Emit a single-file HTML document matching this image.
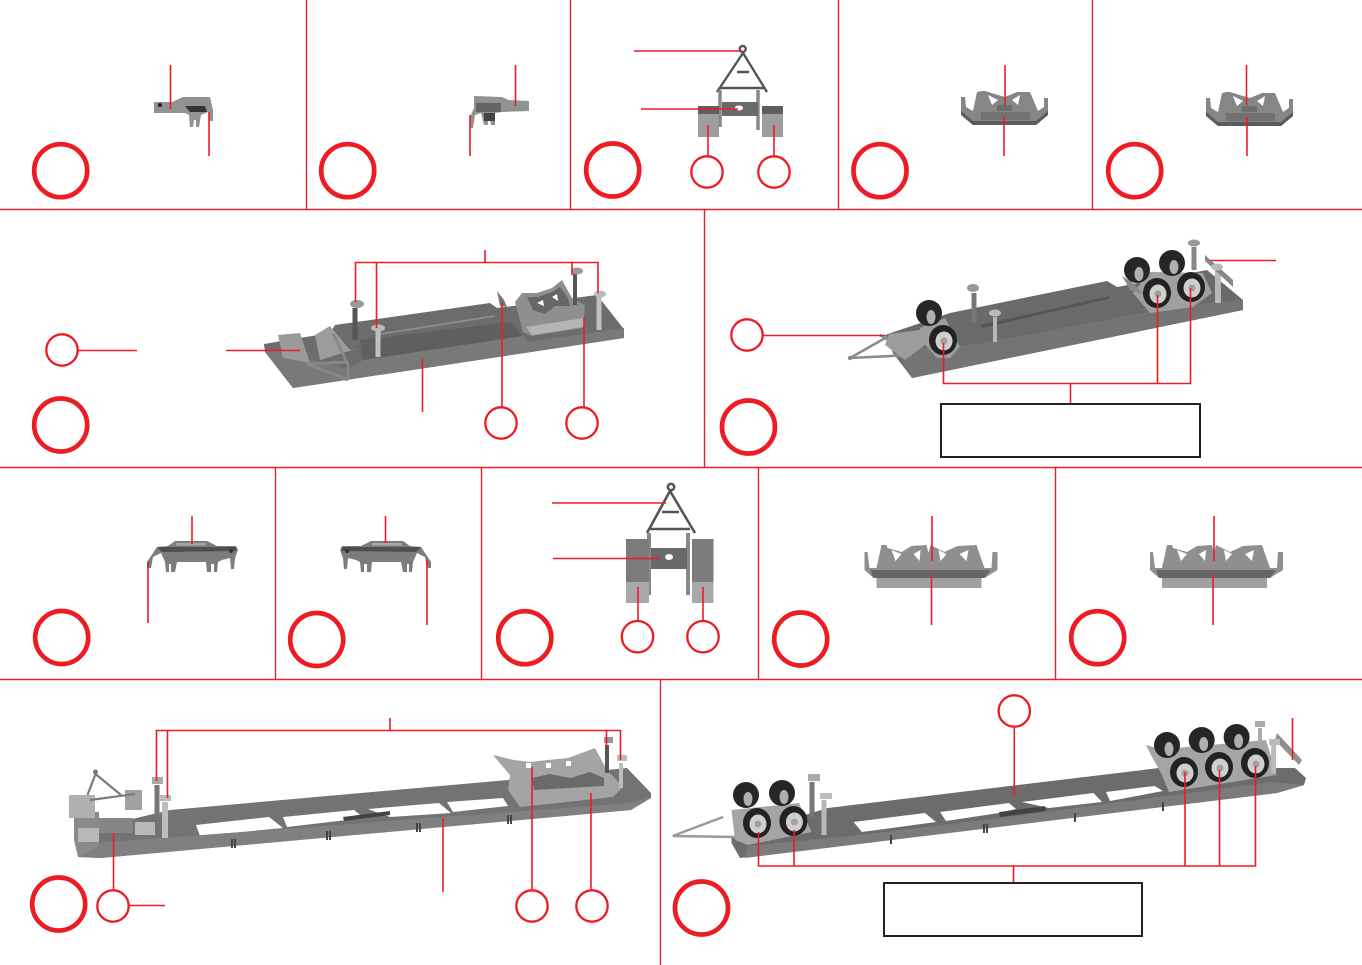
<!DOCTYPE html>
<html>
<head>
<meta charset="utf-8">
<title>Assembly diagram</title>
<style>
html,body{margin:0;padding:0;background:#fff;width:1362px;height:965px;overflow:hidden}
svg{display:block}
.r{stroke:#ed1c24;stroke-width:1.6;fill:none}
.d{stroke:#e0222b;stroke-width:1.4;fill:none}
.big{stroke:#ed1c24;stroke-width:4.700;fill:none}
.sm{stroke:#ed1c24;stroke-width:2.300;fill:none}
.box{stroke:#222;stroke-width:2;fill:#fff}
</style>
</head>
<body>
<svg width="1362" height="965" viewBox="0 0 1362 965" xmlns="http://www.w3.org/2000/svg">
<defs>
  <g id="tray">
    <polygon points="961,97 965,97 966,107 973,111 977,92 982,91 985,91 998,95 1005,97 1017,92 1023,92 1030,92 1038,111 1044,107 1044,98 1048,98 1048,115 1036,125 973,125 961,115" fill="#868686"/>
    <polygon points="988,95 998,100 992,105" fill="#fff"/>
    <polygon points="1020,95 1012,100 1018,105" fill="#fff"/>
    <rect x="997" y="105" width="15" height="6" fill="#6e6e6e"/>
    <polygon points="981,112 1030,112 1030,120 981,120" fill="#727272"/>
    <polygon points="961,111 973,121 1036,121 1048,111 1048,115 1036,125 973,125 961,115" fill="#5c5c5c"/>
  </g>
  <g id="brL">
    <polygon points="147,562 157,547 168,546 175,541 207,541 217,546 236,546 238,550 235,558 234,569 231,569 230,558 222,560 218,562 217,572 214,572 214,564 211,564 211,572 207,572 206,562 177,562 175,572 171,572 171,564 169,564 169,572 166,572 165,562 161,553 153,557 151,568 147,568" fill="#7c7c7c"/>
    <polygon points="157,547 236,547 236,551 162,552" fill="#4f4f4f"/>
    <rect x="176" y="543" width="30" height="2.500" fill="#a8a8a8"/>
    <circle cx="231" cy="551" r="2" fill="#333"/>
  </g>
  <g id="tray2">
    <polygon points="1150,552 1153,552 1155,568 1162,568 1167,545 1172,545 1173,548 1187,552 1197,546 1212,545 1214,553 1216,545 1230,552 1243,546 1262,545 1270,568 1277,568 1278,552 1283,552 1283,570 1270,578 1267,578 1267,588 1162,588 1162,578 1159,578 1150,570" fill="#8f8f8f"/>
    <polygon points="1177,550 1187,554 1181,561" fill="#fff"/>
    <polygon points="1206,550 1199,554 1205,561" fill="#fff"/>
    <polygon points="1224,550 1232,554 1226,561" fill="#fff"/>
    <polygon points="1254,550 1245,554 1252,561" fill="#fff"/>
    <polygon points="1156,570 1276,570 1270,578 1159,578" fill="#666"/>
    <rect x="1162" y="578" width="105" height="10" fill="#a0a0a0"/>
  </g>
  <g id="wheel">
    <ellipse cx="0" cy="0" rx="14" ry="15" fill="#222"/>
    <ellipse cx="1" cy="1" rx="8.500" ry="9.500" fill="#cfcfcf"/>
    <circle cx="1" cy="1" r="3.500" fill="#a0a0a0"/>
  </g>
  <g id="wheelB">
    <ellipse cx="0" cy="0" rx="13" ry="13" fill="#262626"/>
    <ellipse cx="2" cy="4" rx="4.500" ry="7" fill="#b0b0b0"/>
  </g>
</defs>

<!-- Row 1 parts -->
<polygon points="154,102 154,113 185,113 189,115 190,127 193,127 194,120 196,120 196,127 199,127 201,115 208,112 210,121 213,121 213,110 210,97 183,97 172,102" fill="#929292"/>
<polygon points="185,106 205,106 207,112 190,112" fill="#333"/>
<circle cx="160" cy="105" r="2" fill="#222"/>

<polygon points="474,96 502,97 509,100 529,101 529,111 502,112 495,113 495,125 491,125 490,120 488,120 488,125 484,125 481,113 475,115 473,128 470,128 470,117 474,108" fill="#929292"/>
<rect x="476" y="103" width="25" height="9" fill="#646464"/>
<rect x="484" y="113" width="11" height="8" fill="#444"/>

<g stroke="#555" stroke-width="2.400" fill="none">
  <circle cx="742.700" cy="49" r="3"/>
  <path d="M743 53 L717 92 M743 53 L767 92 M737 72 H749 M720 88 H764"/>
  <path d="M720 90 V127 M758 90 V130" stroke="#888" stroke-width="3.500"/>
</g>
<rect x="722" y="102" width="36" height="14" fill="#6a6a6a"/>
<ellipse cx="739" cy="108" rx="4" ry="2.500" fill="#fff"/>
<rect x="698" y="106" width="21" height="31" fill="#9d9d9d"/>
<rect x="698" y="106" width="21" height="8" fill="#5e5e5e"/>
<rect x="762" y="106" width="21" height="31" fill="#9d9d9d"/>
<rect x="762" y="106" width="21" height="8" fill="#5e5e5e"/>

<use href="#tray"/>
<use href="#tray" transform="translate(245,1)"/>

<!-- Row 3 parts -->
<use href="#brL"/>
<use href="#brL" transform="translate(578,0) scale(-1,1)"/>

<g stroke="#555" stroke-width="2.600" fill="none">
  <circle cx="671" cy="487" r="3.200"/>
  <path d="M670 491 L647 533 M670 491 L695 533 M662 512 H679 M650 529 H690"/>
  <path d="M649 533 V595 M688 533 V595" stroke="#888" stroke-width="4"/>
</g>
<rect x="651" y="548" width="36" height="21" fill="#696969"/>
<ellipse cx="669" cy="557" rx="4" ry="3" fill="#fff"/>
<rect x="626" y="539" width="23" height="64" fill="#7b7b7b"/>
<rect x="626" y="582" width="23" height="21" fill="#a8a8a8"/>
<rect x="692" y="539" width="21.500" height="64" fill="#7b7b7b"/>
<rect x="692" y="582" width="21.500" height="21" fill="#a8a8a8"/>

<use href="#tray2" transform="translate(-285.500,0)"/>
<use href="#tray2"/>

<!-- Row 2 left model -->
<polygon points="264,344 330,333 335,325 490,303 497,308 597,295 623,328 624,338 293,388 265,352" fill="#6c6c6c"/>
<polygon points="349,369 363,360 523,336 528,342 624,328 624,338 293,388 265,352 270,350" fill="#797979"/>
<polygon points="363,360 523,336 510,322 360,340" fill="#5f5f5f"/>
<polygon points="380,333 495,315 495,317 380,335" fill="#8a8a8a"/>
<polygon points="515,302 522,293 537,293 552,288 562,280 572,298 585,305 583,328 532,336 523,332" fill="#8f8f8f"/>
<polygon points="527,297 538,297 552,292 560,287 568,298 570,306 555,306 545,314 533,310" fill="#666"/>
<polygon points="537,303 543,300 544,306" fill="#fff"/>
<polygon points="552,297 557,294 558,301" fill="#fff"/>
<polygon points="526,327 584,318 583,327 532,335" fill="#b4b4b4"/>
<polygon points="497,291 504,300 507,307 500,306" fill="#777"/>
<polygon points="278,335 300,333 310,363 283,358" fill="#9a9a9a"/>
<polygon points="315,335 330,326 350,350 356,349 320,360" fill="#9c9c9c"/>
<path d="M307,364 L348,380 M333,333 L348,365 L348,380 M307,364 L348,362" stroke="#888" stroke-width="3" fill="none"/>
<path d="M355,308 V340" stroke="#555" stroke-width="5"/>
<path d="M378,330 V357" stroke="#c0c0c0" stroke-width="5"/>
<path d="M575,273 V305" stroke="#555" stroke-width="4"/>
<path d="M599,297 V330" stroke="#c0c0c0" stroke-width="5"/>
<ellipse cx="357" cy="304" rx="7" ry="4" fill="#999"/>
<ellipse cx="378" cy="328" rx="7" ry="3.500" fill="#bbb"/>
<ellipse cx="577" cy="271" rx="6" ry="3.500" fill="#999"/>
<ellipse cx="600" cy="294" rx="6" ry="3.500" fill="#bbb"/>

<!-- Row 2 right model -->
<polygon points="885,335 950,313 1107,281 1117,287 1207,270 1243,300 1243,310 912,378 893,353" fill="#6a6a6a"/>
<polygon points="896,350 978,344 1142,313 1215,302 1243,300 1243,310 912,378" fill="#747474"/>
<polygon points="980,325 1110,296 1108,299 982,328" fill="#565656"/>
<path d="M850,358 L887,337 M850,358 L912,355 M880,335 L912,355" stroke="#8c8c8c" stroke-width="2.600" fill="none"/>
<circle cx="850" cy="358" r="2.200" fill="#888"/>
<polygon points="889,334 920,330 925,345 905,360 885,345" fill="#9d9d9d"/>
<polygon points="920,328 945,318 960,347 950,358 937,358 921,340" fill="#9d9d9d"/>
<polygon points="1133,293 1150,272 1203,273 1212,293 1193,307 1150,313" fill="#a0a0a0"/>
<polygon points="1122,276 1133,283 1145,295 1130,290" fill="#8a8a8a"/>
<use href="#wheelB" transform="translate(929,313)"/>
<use href="#wheelB" transform="translate(1137,270)"/>
<use href="#wheelB" transform="translate(1172,263)"/>
<use href="#wheel" transform="translate(943,340)"/>
<use href="#wheel" transform="translate(1157,293)"/>
<use href="#wheel" transform="translate(1191,287)"/>
<path d="M974,293 V323" stroke="#777" stroke-width="5"/>
<path d="M995,317 V342" stroke="#b8b8b8" stroke-width="4"/>
<path d="M1194,247 V270" stroke="#888" stroke-width="5"/>
<path d="M1218,270 V303" stroke="#b8b8b8" stroke-width="6"/>
<polygon points="1205,255 1233,280 1233,287 1205,261" fill="#888"/>
<ellipse cx="973" cy="288" rx="6" ry="4" fill="#999"/>
<ellipse cx="995" cy="313" rx="6" ry="3.500" fill="#bbb"/>
<ellipse cx="1194" cy="243" rx="6" ry="3.500" fill="#999"/>
<ellipse cx="1217" cy="267" rx="6" ry="3.500" fill="#bbb"/>

<!-- Row 4 left model -->
<path fill-rule="evenodd" fill="#737373" d="M170,810 L508,780 L627,768 L651,793 L651,798 L631,810 L101,858 L78,857 L74,833 Z
 M196,825 L269,817 L283,828 L200,836 Z
 M283,817 L354,810 L364,818 L287,827 Z
 M368,809 L439,803 L451,813 L390,817 Z
 M447,802 L503,798 L508,806 L453,812 Z"/>
<polygon points="78,857 101,858 631,810 651,797 631,803 95,843" fill="#808080"/>
<g stroke="#444" stroke-width="2" fill="none">
  <path d="M232,839 V848 M235,839 V848 M327,831 V840 M330,831 V840 M417,823 V832 M420,823 V832 M508,815 V824 M511,815 V824"/>
</g>
<polygon points="343,817 390,811 390,815 344,821" fill="#444"/>
<polygon points="493,755 514,760 530,762 548,760 568,758 595,748 607,770 623,787 613,797 520,807 508,790 510,775" fill="#a4a4a4"/>
<polygon points="532,778 550,774 570,778 590,772 604,778 604,786 534,790" fill="#6a6a6a"/>
<rect x="526" y="763" width="5" height="5" fill="#fff"/>
<rect x="546" y="763" width="5" height="5" fill="#fff"/>
<rect x="566" y="761" width="5" height="5" fill="#fff"/>
<polygon points="74,812 99,812 99,845 78,857 74,840" fill="#8a8a8a"/>
<polygon points="69,795 95,795 95,818 69,818" fill="#b0b0b0"/>
<polygon points="125,790 142,790 142,810 125,810" fill="#a0a0a0"/>
<polygon points="99,818 133,818 133,833 99,833" fill="#858585"/>
<rect x="78" y="828" width="21" height="14" fill="#b8b8b8"/>
<rect x="135" y="822" width="20" height="13" fill="#b8b8b8"/>
<path d="M95.500,774 L87.500,795 M95.500,774 L121,795 M90,800 L135,794" stroke="#7a7a7a" stroke-width="2.200" fill="none"/>
<circle cx="95.500" cy="772" r="2.500" fill="#777"/>
<path d="M157,785 V817" stroke="#777" stroke-width="5"/>
<path d="M165,802 V838" stroke="#bdbdbd" stroke-width="6"/>
<path d="M607,745 V773" stroke="#555" stroke-width="4"/>
<path d="M621,763 V788" stroke="#bdbdbd" stroke-width="4"/>
<rect x="152" y="777" width="11" height="7" fill="#aaa"/>
<rect x="160" y="795" width="11" height="6" fill="#bbb"/>
<rect x="604" y="737" width="9" height="6" fill="#999"/>
<rect x="617" y="755" width="10" height="6" fill="#bbb"/>

<!-- Row 4 right model -->
<path fill-rule="evenodd" fill="#6c6c6c" d="M828,808 L1159,768 L1295,768 L1306,778 L1304,785 L1277,793 L740,858 L731.500,843 L731.500,837 Z
 M853.600,822 L925,813 L936,822 L862,832 Z
 M940,812 L1009,803 L1016,809 L999,813 L946,821 Z
 M1022,802 L1093.500,793 L1102,802 L1049,808 Z
 M1106,792 L1154.500,786 L1163,791 L1110,801 Z"/>
<polygon points="745,858 1277,793 1304,785 1272,782 1000,818 860,835 748,846" fill="#7b7b7b"/>
<g stroke="#444" stroke-width="2" fill="none">
  <path d="M891,835 V844 M984,824 V833 M987,824 V833 M1075,813 V822 M1163,802 V811"/>
</g>
<polygon points="999,812 1045,806 1046,811 1000,817" fill="#444"/>
<path d="M672.600,836 L723,817 M672.600,836 L736,837" stroke="#999" stroke-width="2.500" fill="none"/>
<polygon points="731.500,810 799,803 811.500,832 748,845 735,840" fill="#a5a5a5"/>
<polygon points="1146,745 1153,747 1175.500,748 1266,740 1270,753 1276.600,775 1169,792 1161,773 1152,757" fill="#a5a5a5"/>
<use href="#wheelB" transform="translate(746,795)"/>
<use href="#wheelB" transform="translate(782,793)"/>
<use href="#wheelB" transform="translate(1167,745)"/>
<use href="#wheelB" transform="translate(1201.700,740)"/>
<use href="#wheelB" transform="translate(1236.600,737)"/>
<use href="#wheel" transform="translate(757,823)"/>
<use href="#wheel" transform="translate(793.400,821)"/>
<use href="#wheel" transform="translate(1184,772)"/>
<use href="#wheel" transform="translate(1219,767)"/>
<use href="#wheel" transform="translate(1255,763)"/>
<polygon points="1277,733 1302,760 1299,765 1275,740" fill="#909090"/>
<path d="M812,782 V817" stroke="#777" stroke-width="5"/>
<path d="M824,800 V835" stroke="#b8b8b8" stroke-width="5"/>
<path d="M1260,728 V743" stroke="#aaa" stroke-width="4"/>
<path d="M1273.600,745 V773" stroke="#bbb" stroke-width="5"/>
<rect x="808" y="774" width="12" height="7" fill="#aaa"/>
<rect x="820" y="793" width="12" height="6" fill="#bbb"/>
<rect x="1255" y="721" width="10" height="6" fill="#aaa"/>
<rect x="1269" y="739" width="11" height="6" fill="#bbb"/>

<!-- Dividers -->
<g class="d">
  <path d="M0,209.500 H1362 M0,467.500 H1362 M0,679.500 H1362"/>
  <path d="M306.500,0 V209 M570.500,0 V209 M838.500,0 V209 M1092.500,0 V209"/>
  <path d="M704.500,209 V467"/>
  <path d="M275.500,467 V679 M481.500,467 V679 M758.500,467 V679 M1055.500,467 V679"/>
  <path d="M660.500,679 V965"/>
</g>

<!-- Big circles -->
<g class="big">
  <circle cx="60.700" cy="170.700" r="26.500"/>
  <circle cx="347.700" cy="170.700" r="26.500"/>
  <circle cx="612.700" cy="170" r="26.500"/>
  <circle cx="880" cy="170.700" r="26.500"/>
  <circle cx="1134.700" cy="170.700" r="26.500"/>
  <circle cx="60.700" cy="425" r="26.500"/>
  <circle cx="748.500" cy="427" r="26.500"/>
  <circle cx="61.700" cy="637.500" r="26.500"/>
  <circle cx="316.700" cy="639.500" r="26.500"/>
  <circle cx="524.800" cy="637.700" r="26.500"/>
  <circle cx="800.700" cy="639" r="26.500"/>
  <circle cx="1097.700" cy="637.700" r="26.500"/>
  <circle cx="58.700" cy="904" r="26.500"/>
  <circle cx="701.500" cy="908" r="26.500"/>
</g>
<!-- Small circles -->
<g class="sm">
  <circle cx="707" cy="172" r="15.700"/>
  <circle cx="774" cy="172" r="15.700"/>
  <circle cx="62" cy="350" r="15.700"/>
  <circle cx="501" cy="423" r="15.700"/>
  <circle cx="582" cy="423" r="15.700"/>
  <circle cx="747" cy="335" r="15.700"/>
  <circle cx="637.500" cy="636.700" r="15.700"/>
  <circle cx="703" cy="636.700" r="15.700"/>
  <circle cx="113" cy="906" r="15.700"/>
  <circle cx="532" cy="906" r="15.700"/>
  <circle cx="592" cy="906" r="15.700"/>
  <circle cx="1014.300" cy="711" r="15.700"/>
</g>

<!-- Red leader lines -->
<g class="r">
  <path d="M170.500,65 V109 M209,112 V156"/>
  <path d="M515.500,65 V106 M470,115 V156"/>
  <path d="M634,51 H742 M641,109 H738 M708,125 V156 M774,125 V156"/>
  <path d="M1005,65 V105 M1004,117 V156"/>
  <path d="M1246.500,65 V105 M1247,117 V156"/>

  <path d="M355.500,302 V262.500 H598 V293 M376.500,263 V328 M572,263 V275 M485,250 V263"/>
  <path d="M78,350.500 H137 M226,350.500 H300 M422.500,359 V412 M502,302 V407 M584,318 V407"/>

  <path d="M1210,260.500 H1276 M763,335.500 H885"/>
  <path d="M943.500,343 V383.500 H1190.500 V288 M1157.500,295 V383 M1070.500,383 V404"/>

  <path d="M192,516 V544 M148,562 V623"/>
  <path d="M385.500,516 V543 M427,560 V625"/>
  <path d="M552,503 H666 M553,558.500 H659 M638,587 V620 M703,587 V620"/>
  <path d="M932,516 V561 M931.500,575 V625"/>
  <path d="M1214,516 V561 M1213,575 V625"/>

  <path d="M156.500,781 V730.500 H620.500 V760 M167.500,731 V798 M606.500,731 V747 M390,718 V730"/>
  <path d="M113.500,833 V890 M129,905.500 H165 M443,818 V892 M532,767 V890 M591,793 V890"/>

  <path d="M758.500,832 V866 H1255.500 V766 M794,830 V866 M1185,772 V866 M1219.500,770 V866 M1013.500,866 V883"/>
  <path d="M1014.300,727 V797 M1292.500,718 V760"/>
</g>

<!-- Black label boxes -->
<rect class="box" x="941" y="404" width="259" height="53"/>
<rect class="box" x="884" y="883" width="258" height="53"/>
</svg>
</body>
</html>
